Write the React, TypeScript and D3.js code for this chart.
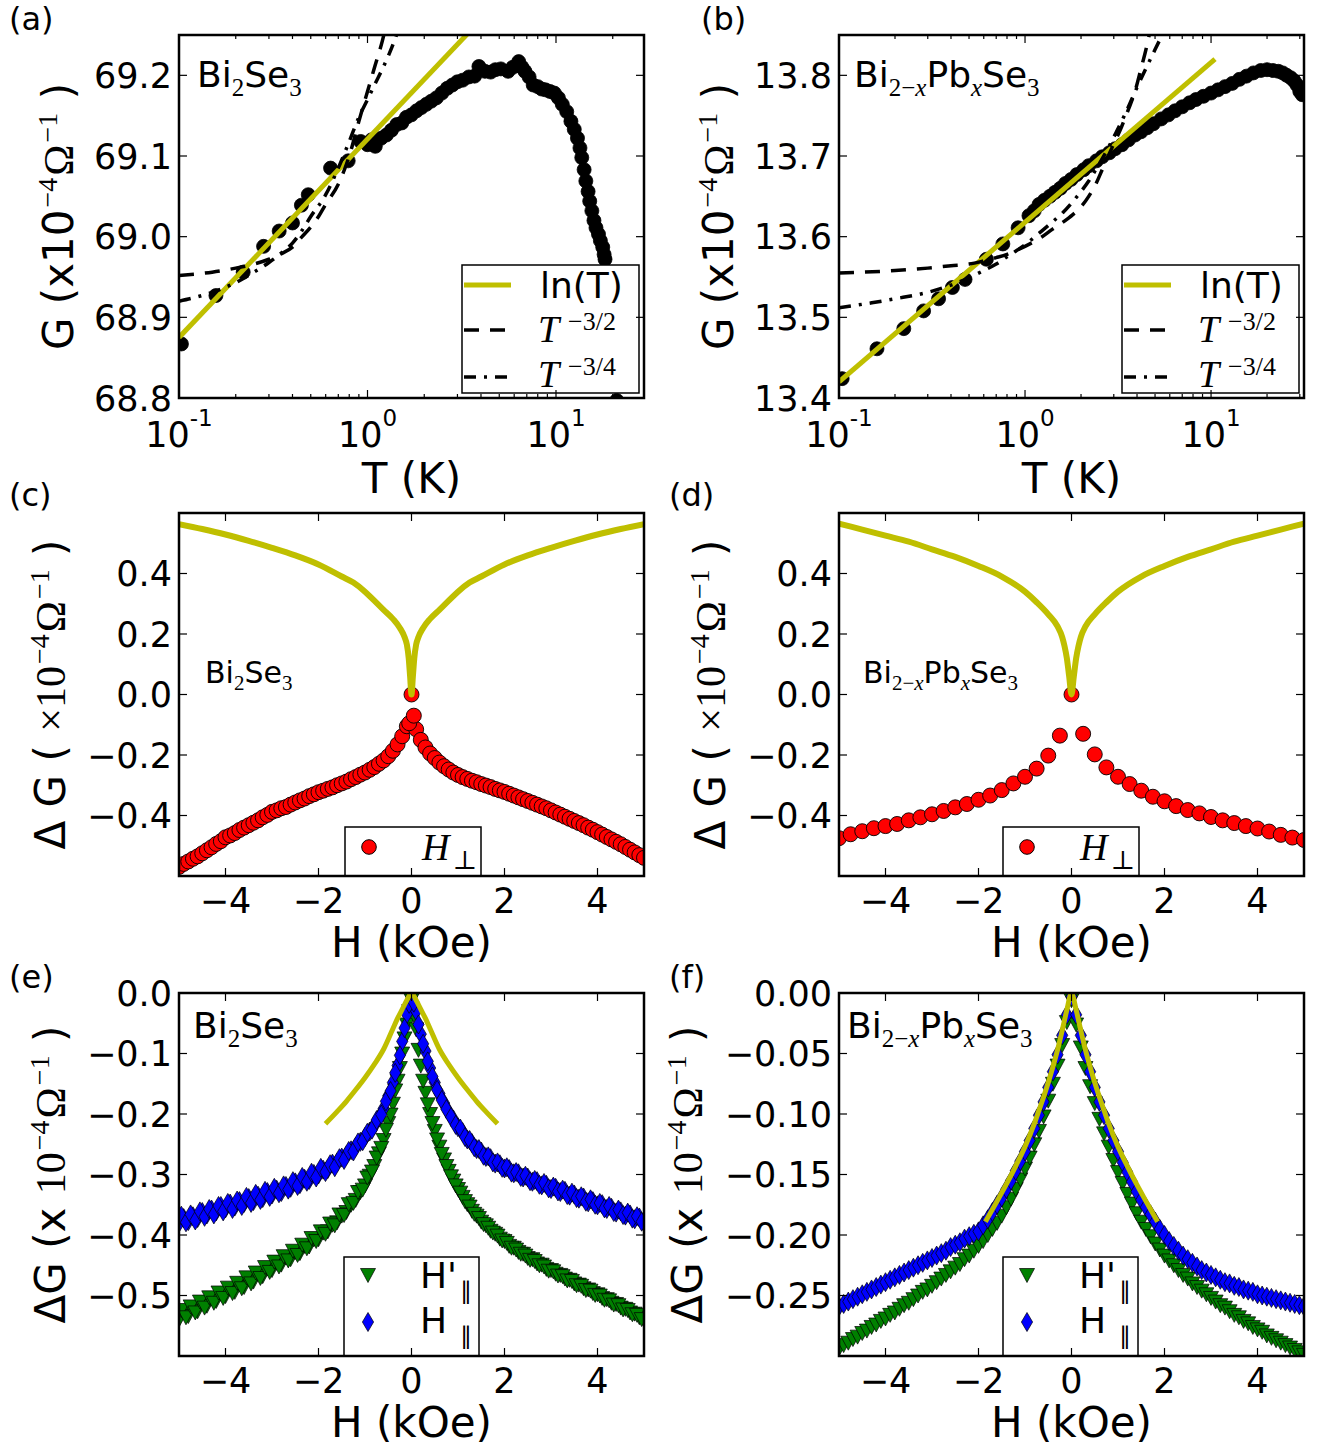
import React from "react";
import * as d3 from "d3";

const SANS = "'DejaVu Sans', sans-serif";
const SERIF = "'Liberation Serif', 'DejaVu Serif', serif";
const YEL = "#bfbf00";
const RED = "#ff0000";
const GREEN = "#008000";
const BLUE = "#0000ff";

// ---------------- (a) Bi2Se3 G(T)
const aT = [0.103,0.157,0.219,0.281,0.34,0.40,0.446,0.485,0.637,0.79,0.92,1.0,1.05,1.1,1.18,1.26,1.34,1.43,1.52,1.61,1.71,1.82,1.93,2.05,2.18,2.32,2.48,2.65,2.82,3.0,3.2,3.45,3.7,3.9,4.2,4.5,4.77,5.1,5.57,5.9,6.34,6.6,6.84,7.2,7.57,8.0,8.4,8.8,9.3,9.8,10.3,10.8,11.4,12.0,12.5,13.0,13.4,13.7,14.1,14.4,14.8,15.1,15.5,15.9,16.3,16.8,17.2,17.7,18.0,18.2,21.0];
const aG = [68.867,68.927,68.956,68.988,69.007,69.017,69.039,69.052,69.085,69.094,69.118,69.114,69.12,69.112,69.122,69.126,69.132,69.139,69.141,69.148,69.151,69.156,69.16,69.164,69.168,69.172,69.178,69.184,69.188,69.192,69.194,69.198,69.199,69.211,69.205,69.204,69.207,69.208,69.205,69.21,69.217,69.21,69.205,69.198,69.188,69.186,69.183,69.182,69.18,69.178,69.172,69.164,69.155,69.143,69.133,69.122,69.11,69.098,69.083,69.069,69.056,69.044,69.032,69.02,69.011,69.003,68.995,68.987,68.978,68.972,68.797];
const aLnT = [0.1, 10];
const aLnG = [68.875, 69.367];
const aDashT = [0.1,0.15,0.2,0.25,0.3,0.35,0.4,0.45,0.5,0.55,0.6,0.7,0.8,0.9,1.0,1.1,1.2,1.25];
const aDashG = [68.952,68.956,68.961,68.966,68.972,68.979,68.987,69.0,69.012,69.025,69.04,69.065,69.1,69.143,69.18,69.213,69.243,69.26];
const aDotT = [0.1,0.15,0.2,0.25,0.3,0.35,0.4,0.45,0.5,0.6,0.7,0.8,0.9,1.0,1.1,1.2,1.3,1.4,1.5];
const aDotG = [68.92,68.931,68.943,68.956,68.968,68.98,68.992,69.008,69.025,69.052,69.085,69.118,69.148,69.17,69.19,69.208,69.226,69.245,69.265];

// ---------------- (b) Bi2-xPbxSe3 G(T)
const bT = [0.104,0.16,0.223,0.285,0.343,0.407,0.476,0.62,0.76,0.918,1.05,1.12,1.19,1.27,1.36,1.45,1.55,1.65,1.77,1.9,2.07,2.2,2.42,2.6,2.84,3.05,3.32,3.6,3.9,4.2,4.54,4.9,5.4,5.9,6.4,7.0,7.67,8.3,9.1,10.0,10.9,11.9,13.0,14.2,15.5,16.9,18.5,20.0,21.5,23.0,24.3,25.5,26.8,28.0,29.0,30.0,30.9];
const bG = [13.424,13.461,13.486,13.508,13.523,13.537,13.547,13.572,13.591,13.611,13.626,13.632,13.640,13.645,13.650,13.655,13.660,13.666,13.671,13.677,13.683,13.688,13.694,13.699,13.704,13.709,13.714,13.720,13.726,13.730,13.735,13.740,13.746,13.751,13.756,13.761,13.766,13.770,13.774,13.778,13.782,13.786,13.790,13.795,13.799,13.803,13.806,13.807,13.806,13.805,13.803,13.800,13.797,13.793,13.788,13.780,13.776];
const bLnT = [0.1, 10.5];
const bLnG = [13.42, 13.82];
const bDashT = [0.1,0.2,0.3,0.4,0.5,0.6,0.7,0.8,0.9,1.0,1.2,1.4,1.6,1.8,2.0,2.2,2.4,2.6,2.8,3.0,3.3,3.6,3.9,4.2,4.5,4.7];
const bDashG = [13.555,13.558,13.561,13.564,13.566,13.57,13.574,13.578,13.583,13.588,13.598,13.609,13.618,13.627,13.637,13.65,13.665,13.683,13.7,13.715,13.736,13.758,13.78,13.808,13.835,13.855];
const bDotT = [0.1,0.15,0.2,0.3,0.4,0.5,0.6,0.7,0.8,1.0,1.2,1.4,1.6,1.8,2.0,2.2,2.5,2.8,3.1,3.5,4.0,4.5,5.0,5.6];
const bDotG = [13.512,13.518,13.523,13.531,13.54,13.549,13.558,13.566,13.575,13.59,13.605,13.618,13.63,13.643,13.656,13.669,13.69,13.71,13.73,13.755,13.785,13.81,13.832,13.855];

// ---------------- field sweeps (kOe)
const H_GRID = [-5.0,-4.9,-4.8,-4.7,-4.6,-4.5,-4.4,-4.3,-4.2,-4.1,-4.0,-3.9,-3.8,-3.7,-3.6,-3.5,-3.4,-3.3,-3.2,-3.1,-3.0,-2.9,-2.8,-2.7,-2.6,-2.5,-2.4,-2.3,-2.2,-2.1,-2.0,-1.9,-1.8,-1.7,-1.6,-1.5,-1.4,-1.3,-1.2,-1.1,-1.0,-0.9,-0.8,-0.7,-0.6,-0.5,-0.4,-0.3,-0.2,-0.1,0.0,0.1,0.2,0.3,0.4,0.5,0.6,0.7,0.8,0.9,1.0,1.1,1.2,1.3,1.4,1.5,1.6,1.7,1.8,1.9,2.0,2.1,2.2,2.3,2.4,2.5,2.6,2.7,2.8,2.9,3.0,3.1,3.2,3.3,3.4,3.5,3.6,3.7,3.8,3.9,4.0,4.1,4.2,4.3,4.4,4.5,4.6,4.7,4.8,4.9,5.0];
const H_HALF = [-4.95,-4.85,-4.75,-4.65,-4.55,-4.45,-4.35,-4.25,-4.15,-4.05,-3.95,-3.85,-3.75,-3.65,-3.55,-3.45,-3.35,-3.25,-3.15,-3.05,-2.95,-2.85,-2.75,-2.65,-2.55,-2.45,-2.35,-2.25,-2.15,-2.05,-1.95,-1.85,-1.75,-1.65,-1.55,-1.45,-1.35,-1.25,-1.15,-1.05,-0.95,-0.85,-0.75,-0.65,-0.55,-0.45,-0.35,-0.25,-0.15,-0.05,0.05,0.15,0.25,0.35,0.45,0.55,0.65,0.75,0.85,0.95,1.05,1.15,1.25,1.35,1.45,1.55,1.65,1.75,1.85,1.95,2.05,2.15,2.25,2.35,2.45,2.55,2.65,2.75,2.85,2.95,3.05,3.15,3.25,3.35,3.45,3.55,3.65,3.75,3.85,3.95,4.05,4.15,4.25,4.35,4.45,4.55,4.65,4.75,4.85,4.95];

// ---------------- (c) Bi2Se3 H_perp
const cG = [
-0.570,-0.560,-0.552,-0.543,-0.535,-0.525,-0.515,-0.505,-0.494,-0.485,
-0.472,-0.466,-0.458,-0.448,-0.440,-0.432,-0.424,-0.416,-0.406,-0.398,
-0.388,-0.383,-0.376,-0.372,-0.364,-0.357,-0.350,-0.344,-0.336,-0.330,
-0.323,-0.318,-0.312,-0.307,-0.300,-0.294,-0.288,-0.280,-0.273,-0.265,
-0.258,-0.249,-0.240,-0.229,-0.218,-0.204,-0.186,-0.165,-0.138,-0.105,
0.0,
-0.115,-0.150,-0.175,-0.195,-0.210,-0.225,-0.237,-0.248,-0.258,-0.266,
-0.273,-0.279,-0.285,-0.290,-0.296,-0.301,-0.306,-0.312,-0.317,-0.322,
-0.328,-0.334,-0.340,-0.346,-0.352,-0.358,-0.364,-0.370,-0.376,-0.383,
-0.390,-0.397,-0.404,-0.411,-0.418,-0.425,-0.432,-0.440,-0.447,-0.455,
-0.463,-0.471,-0.479,-0.487,-0.495,-0.504,-0.513,-0.522,-0.531,-0.540];
const cExtraH = [-0.05, 0.05];
const cExtraG = [-0.095, -0.07];
const cFitH = [0,0.03,0.06,0.1,0.15,0.25,0.4,0.6,0.8,1.0,1.25,1.5,2.0,2.5,3.0,3.5,4.0,4.5,5.0];
const cFitG = [0,0.06,0.12,0.165,0.19,0.22,0.25,0.28,0.31,0.34,0.37,0.39,0.43,0.46,0.485,0.508,0.529,0.547,0.563];

// ---------------- (d) Bi2-xPbxSe3 H_perp
const dH = [-5.0,-4.75,-4.5,-4.25,-4.0,-3.75,-3.5,-3.25,-3.0,-2.75,-2.5,-2.25,-2.0,-1.75,-1.5,-1.25,-1.0,-0.75,-0.5,-0.25,0,0.25,0.5,0.75,1.0,1.25,1.5,1.75,2.0,2.25,2.5,2.75,3.0,3.25,3.5,3.75,4.0,4.25,4.5,4.75,5.0];
const dG = [-0.475,-0.462,-0.452,-0.442,-0.435,-0.428,-0.416,-0.406,-0.396,-0.385,-0.373,-0.362,-0.348,-0.334,-0.316,-0.294,-0.272,-0.245,-0.202,-0.136,0.0,-0.13,-0.198,-0.241,-0.272,-0.296,-0.318,-0.338,-0.353,-0.369,-0.382,-0.393,-0.405,-0.416,-0.425,-0.435,-0.443,-0.453,-0.464,-0.473,-0.481];
const dFitH = [0,0.05,0.1,0.15,0.2,0.3,0.5,0.75,1.0,1.5,2.0,2.5,3.0,3.5,4.0,4.5,5.0];
const dFitG = [0,0.06,0.12,0.16,0.19,0.225,0.265,0.305,0.34,0.39,0.425,0.455,0.48,0.505,0.525,0.545,0.565];

// ---------------- (e) Bi2Se3 parallel fields (two sweeps each)
const eBlue = [
-0.380,-0.372,-0.377,-0.369,-0.372,-0.362,-0.366,-0.358,-0.361,-0.352,
-0.356,-0.348,-0.353,-0.344,-0.347,-0.339,-0.344,-0.335,-0.339,-0.329,
-0.333,-0.325,-0.329,-0.319,-0.322,-0.313,-0.316,-0.307,-0.309,-0.299,
-0.300,-0.292,-0.291,-0.282,-0.280,-0.272,-0.268,-0.260,-0.254,-0.246,
-0.238,-0.229,-0.219,-0.206,-0.191,-0.170,-0.148,-0.120,-0.080,-0.035,
-0.006,
-0.030,-0.068,-0.096,-0.124,-0.148,-0.166,-0.182,-0.197,-0.209,-0.222,
-0.230,-0.242,-0.248,-0.258,-0.262,-0.271,-0.273,-0.282,-0.283,-0.290,
-0.291,-0.298,-0.298,-0.305,-0.305,-0.312,-0.311,-0.318,-0.317,-0.324,
-0.322,-0.329,-0.327,-0.335,-0.333,-0.340,-0.338,-0.346,-0.344,-0.351,
-0.349,-0.357,-0.355,-0.363,-0.361,-0.368,-0.366,-0.374,-0.371,-0.379];
const eBlue2 = [
-0.368,-0.379,-0.366,-0.376,-0.361,-0.370,-0.357,-0.366,-0.352,-0.361,
-0.347,-0.357,-0.343,-0.352,-0.337,-0.347,-0.332,-0.342,-0.327,-0.337,
-0.322,-0.331,-0.318,-0.325,-0.311,-0.319,-0.304,-0.312,-0.297,-0.305,
-0.289,-0.296,-0.283,-0.288,-0.273,-0.276,-0.261,-0.262,-0.247,-0.245,
-0.231,-0.226,-0.210,-0.201,-0.179,-0.162,-0.132,-0.103,-0.058,-0.018,
-0.016,-0.052,-0.084,-0.113,-0.138,-0.160,-0.177,-0.192,-0.205,-0.218,
-0.224,-0.238,-0.243,-0.255,-0.258,-0.269,-0.270,-0.280,-0.280,-0.289,
-0.288,-0.297,-0.296,-0.304,-0.302,-0.311,-0.309,-0.317,-0.314,-0.323,
-0.320,-0.328,-0.325,-0.334,-0.330,-0.339,-0.336,-0.345,-0.341,-0.350,
-0.347,-0.356,-0.352,-0.362,-0.358,-0.367,-0.363,-0.373,-0.369,-0.378];
const eGreen = [
-0.540,-0.528,-0.534,-0.520,-0.526,-0.512,-0.517,-0.505,-0.509,-0.497,
-0.501,-0.489,-0.494,-0.481,-0.486,-0.473,-0.477,-0.464,-0.468,-0.455,
-0.458,-0.446,-0.449,-0.437,-0.440,-0.428,-0.430,-0.418,-0.419,-0.407,
-0.407,-0.396,-0.394,-0.383,-0.379,-0.368,-0.362,-0.350,-0.342,-0.329,
-0.318,-0.302,-0.286,-0.265,-0.243,-0.215,-0.183,-0.145,-0.100,-0.052,
-0.012,
-0.060,-0.120,-0.165,-0.200,-0.228,-0.254,-0.275,-0.294,-0.310,-0.324,
-0.337,-0.349,-0.360,-0.368,-0.378,-0.384,-0.393,-0.398,-0.406,-0.410,
-0.418,-0.421,-0.428,-0.431,-0.438,-0.440,-0.447,-0.449,-0.456,-0.458,
-0.464,-0.466,-0.472,-0.474,-0.480,-0.482,-0.488,-0.490,-0.496,-0.498,
-0.504,-0.506,-0.512,-0.514,-0.520,-0.522,-0.528,-0.530,-0.536,-0.540];
const eGreen2 = [
-0.524,-0.536,-0.518,-0.528,-0.510,-0.520,-0.503,-0.512,-0.495,-0.504,
-0.487,-0.496,-0.479,-0.488,-0.470,-0.480,-0.462,-0.471,-0.453,-0.461,
-0.444,-0.452,-0.435,-0.442,-0.426,-0.433,-0.416,-0.422,-0.405,-0.410,
-0.394,-0.398,-0.381,-0.384,-0.366,-0.367,-0.349,-0.347,-0.329,-0.325,
-0.305,-0.295,-0.272,-0.256,-0.226,-0.201,-0.161,-0.124,-0.075,-0.030,
-0.036,-0.094,-0.145,-0.184,-0.215,-0.242,-0.266,-0.286,-0.303,-0.318,
-0.330,-0.344,-0.353,-0.365,-0.372,-0.382,-0.388,-0.396,-0.401,-0.409,
-0.413,-0.421,-0.424,-0.431,-0.434,-0.441,-0.443,-0.450,-0.452,-0.459,
-0.460,-0.467,-0.468,-0.475,-0.476,-0.483,-0.484,-0.491,-0.492,-0.499,
-0.500,-0.507,-0.508,-0.515,-0.516,-0.523,-0.524,-0.531,-0.532,-0.539];
const eFitH = [0,0.1,0.2,0.3,0.4,0.6,0.8,1.0,1.2,1.4,1.6,1.85];
const eFitG = [0,-0.012,-0.027,-0.042,-0.059,-0.093,-0.118,-0.140,-0.160,-0.179,-0.196,-0.216];

// ---------------- (f) Bi2-xPbxSe3 parallel fields
const fBlue = [
-0.259,-0.257,-0.255,-0.253,-0.251,-0.249,-0.247,-0.245,-0.243,-0.241,
-0.239,-0.237,-0.235,-0.233,-0.231,-0.229,-0.227,-0.225,-0.223,-0.221,
-0.219,-0.217,-0.215,-0.213,-0.210,-0.208,-0.206,-0.203,-0.201,-0.199,
-0.197,-0.192,-0.187,-0.181,-0.175,-0.169,-0.162,-0.155,-0.147,-0.139,
-0.131,-0.122,-0.112,-0.101,-0.090,-0.078,-0.065,-0.051,-0.035,-0.018,
-0.003,
-0.018,-0.035,-0.051,-0.065,-0.078,-0.090,-0.101,-0.112,-0.122,-0.131,
-0.140,-0.148,-0.156,-0.164,-0.171,-0.177,-0.183,-0.189,-0.195,-0.200,
-0.205,-0.209,-0.213,-0.217,-0.220,-0.223,-0.226,-0.229,-0.231,-0.233,
-0.235,-0.237,-0.239,-0.240,-0.242,-0.243,-0.245,-0.246,-0.247,-0.249,
-0.250,-0.251,-0.252,-0.253,-0.254,-0.255,-0.256,-0.257,-0.258,-0.259];
const fGreen = [
-0.294,-0.291,-0.289,-0.286,-0.284,-0.281,-0.279,-0.276,-0.274,-0.271,
-0.269,-0.266,-0.264,-0.261,-0.258,-0.256,-0.253,-0.250,-0.247,-0.245,
-0.242,-0.239,-0.236,-0.233,-0.230,-0.227,-0.224,-0.220,-0.217,-0.213,
-0.209,-0.205,-0.200,-0.195,-0.190,-0.184,-0.177,-0.170,-0.162,-0.154,
-0.145,-0.136,-0.125,-0.114,-0.102,-0.089,-0.075,-0.060,-0.043,-0.024,
-0.006,
-0.026,-0.045,-0.062,-0.077,-0.091,-0.104,-0.116,-0.127,-0.138,-0.148,
-0.157,-0.166,-0.174,-0.182,-0.189,-0.195,-0.201,-0.207,-0.212,-0.217,
-0.221,-0.225,-0.229,-0.233,-0.236,-0.240,-0.243,-0.246,-0.249,-0.252,
-0.255,-0.258,-0.260,-0.263,-0.266,-0.268,-0.271,-0.273,-0.276,-0.278,
-0.280,-0.283,-0.285,-0.287,-0.289,-0.291,-0.293,-0.295,-0.297,-0.299];
const fFitH = [0,0.1,0.2,0.3,0.4,0.5,0.6,0.7,0.8,1.0,1.2,1.4,1.6,1.85];
const fFitG = [0,-0.014,-0.031,-0.047,-0.061,-0.074,-0.086,-0.097,-0.108,-0.127,-0.143,-0.158,-0.172,-0.189];

// tick values
const aYTicks = [68.8, 68.9, 69.0, 69.1, 69.2];
const bYTicks = [13.4, 13.5, 13.6, 13.7, 13.8];
const cdYTicks = [-0.4, -0.2, 0.0, 0.2, 0.4];
const eYTicks = [0.0, -0.1, -0.2, -0.3, -0.4, -0.5];
const fYTicks = [0.0, -0.05, -0.1, -0.15, -0.2, -0.25];
const hTicks = [-4, -2, 0, 2, 4];
const logMajors = [0.1, 1, 10];

// ---------------- layout
const PW = 465, PH = 363;
const COLX = [179, 839];
const ROWY = [35, 513, 993];

const xa = d3.scaleLog().domain([0.1, 29.3]).range([COLX[0], COLX[0] + PW]);
const ya = d3.scaleLinear().domain([68.8, 69.25]).range([ROWY[0] + PH, ROWY[0]]);
const xb = d3.scaleLog().domain([0.1, 31.6]).range([COLX[1], COLX[1] + PW]);
const yb = d3.scaleLinear().domain([13.4, 13.85]).range([ROWY[0] + PH, ROWY[0]]);
const xc = d3.scaleLinear().domain([-5, 5]).range([COLX[0], COLX[0] + PW]);
const yc = d3.scaleLinear().domain([-0.6, 0.6]).range([ROWY[1] + PH, ROWY[1]]);
const xd = d3.scaleLinear().domain([-5, 5]).range([COLX[1], COLX[1] + PW]);
const yd = d3.scaleLinear().domain([-0.6, 0.6]).range([ROWY[1] + PH, ROWY[1]]);
const xe = d3.scaleLinear().domain([-5, 5]).range([COLX[0], COLX[0] + PW]);
const ye = d3.scaleLinear().domain([-0.6, 0]).range([ROWY[2] + PH, ROWY[2]]);
const xf = d3.scaleLinear().domain([-5, 5]).range([COLX[1], COLX[1] + PW]);
const yf = d3.scaleLinear().domain([-0.3, 0]).range([ROWY[2] + PH, ROWY[2]]);

type Part = { t: string; serif?: boolean; it?: boolean; size?: number; shift?: number; dx?: number };

function Rich({ x = 0, y = 0, parts, size, anchor = "start", transform }: { x?: number; y?: number; parts: Part[]; size: number; anchor?: string; transform?: string }) {
  let prev = 0;
  return (
    <text x={x} y={y} textAnchor={anchor as any} transform={transform} fontSize={size} fontFamily={SANS} style={{ whiteSpace: "pre" }} fill="#000">
      {parts.map((p, i) => {
        const s = p.shift || 0;
        const dy = s - prev;
        prev = s;
        return (
          <tspan key={i} dx={p.dx || 0} dy={dy} fontFamily={p.serif ? SERIF : SANS} fontStyle={p.it ? "italic" : "normal"} fontSize={p.size || size}>
            {p.t}
          </tspan>
        );
      })}
    </text>
  );
}

const zip = (a: number[], b: number[]) => a.map((v, i) => [v, b[i]] as [number, number]);
const mirror = (hs: number[], gs: number[]) => {
  const neg = hs.map((h, i) => [-h, gs[i]] as [number, number]).reverse();
  const pos = hs.slice(1).map((h, i) => [h, gs[i + 1]] as [number, number]);
  return [...neg, ...pos];
};
const pathOf = (x: any, y: any, pts: [number, number][], smooth = true) =>
  (d3.line<[number, number]>().x((d) => x(d[0])).y((d) => y(d[1])).curve(smooth ? d3.curveMonotoneX : d3.curveLinear)(pts) as string);

const TRI = "M-7.5,-6.5L7.5,-6.5L0,7.5Z";
const DIA = "M0,-9.5L5.6,0L0,9.5L-5.6,0Z";

function Axes({ id, x, y, xLog, yTicks, yFmt, xLabel, xLabelY, yLabel, yLabelX, letter, letterX, letterY, children }: any) {
  const [L, R] = x.range();
  const [B, T] = y.range();
  const els: React.ReactNode[] = [];
  const tk = (k: string, x1: number, y1: number, x2: number, y2: number) =>
    els.push(<line key={k} x1={x1} y1={y1} x2={x2} y2={y2} stroke="#000" strokeWidth={1.2} />);
  yTicks.forEach((v: number, i: number) => {
    const yy = y(v);
    tk("yl" + i, L, yy, L + 8, yy);
    tk("yr" + i, R, yy, R - 8, yy);
  });
  const labels: React.ReactNode[] = [];
  yTicks.forEach((v: number, i: number) => {
    labels.push(
      <text key={"ylab" + i} x={L - 7} y={y(v) + 12.7} textAnchor="end" fontSize={35} fontFamily={SANS}>
        {yFmt(v)}
      </text>
    );
  });
  if (xLog) {
    const [d0, d1] = x.domain();
    const majors = logMajors.filter((v) => v >= d0 * 0.999 && v <= d1);
    const minors: number[] = [];
    logMajors.forEach((dec) => {
      for (let k = 2; k < 10; k++) {
        const v = dec * k;
        if (v > d0 && v < d1) minors.push(v);
      }
    });
    majors.forEach((v, i) => {
      tk("xb" + i, x(v), B, x(v), B - 8);
      tk("xt" + i, x(v), T, x(v), T + 8);
      const e = Math.round(Math.log10(v));
      labels.push(
        <text key={"xlab" + i} x={x(v)} y={B + 49} textAnchor="middle" fontSize={35} fontFamily={SANS}>
          <tspan>10</tspan>
          <tspan dy={-21} fontSize={23}>{String(e)}</tspan>
        </text>
      );
    });
    minors.forEach((v, i) => {
      tk("mb" + i, x(v), B, x(v), B - 4);
      tk("mt" + i, x(v), T, x(v), T + 4);
    });
  } else {
    hTicks.forEach((v, i) => {
      tk("xb" + i, x(v), B, x(v), B - 8);
      tk("xt" + i, x(v), T, x(v), T + 8);
      labels.push(
        <text key={"xlab" + i} x={x(v)} y={B + 37} textAnchor="middle" fontSize={35} fontFamily={SANS}>
          {d3.format("d")(v)}
        </text>
      );
    });
  }
  const cx = (L + R) / 2;
  const cy = (B + T) / 2;
  return (
    <g>
      <defs>
        <clipPath id={id}>
          <rect x={L} y={T} width={R - L} height={B - T} />
        </clipPath>
      </defs>
      <g clipPath={`url(#${id})`}>{children}</g>
      {els}
      <rect x={L} y={T} width={R - L} height={B - T} fill="none" stroke="#000" strokeWidth={2.5} />
      {labels}
      <text x={cx} y={xLabelY} textAnchor="middle" fontSize={42} fontFamily={SANS}>{xLabel}</text>
      <Rich parts={yLabel} size={42} anchor="middle" transform={`translate(${yLabelX},${cy}) rotate(-90)`} />
      <text x={letterX} y={letterY} fontSize={32} fontFamily={SANS}>{letter}</text>
    </g>
  );
}

const SUP = 28;
const yLabAB: Part[] = [
  { t: "G (x10" },
  { t: "−4", serif: true, size: SUP, shift: -16, dx: 2 },
  { t: "Ω", serif: true, dx: 2 },
  { t: "−1", serif: true, size: SUP, shift: -16, dx: 2 },
  { t: " )" },
];
const yLabCD: Part[] = [
  { t: "Δ G ( " },
  { t: "×10", serif: true },
  { t: "−4", serif: true, size: SUP, shift: -16, dx: 2 },
  { t: "Ω", serif: true, dx: 2 },
  { t: "−1", serif: true, size: SUP, shift: -16, dx: 2 },
  { t: " )" },
];
const yLabEF: Part[] = [
  { t: "ΔG (x " },
  { t: "10", serif: true },
  { t: "−4", serif: true, size: SUP, shift: -16, dx: 2 },
  { t: "Ω", serif: true, dx: 2 },
  { t: "−1", serif: true, size: SUP, shift: -16, dx: 2 },
  { t: " )" },
];

const bi2se3 = (sub: number, sh: number): Part[] => [
  { t: "Bi" },
  { t: "2", serif: true, size: sub, shift: sh },
  { t: "Se" },
  { t: "3", serif: true, size: sub, shift: sh },
];
const bipb = (sub: number, sh: number): Part[] => [
  { t: "Bi" },
  { t: "2−", serif: true, size: sub, shift: sh },
  { t: "x", serif: true, it: true, size: sub, shift: sh },
  { t: "Pb" },
  { t: "x", serif: true, it: true, size: sub, shift: sh },
  { t: "Se" },
  { t: "3", serif: true, size: sub, shift: sh },
];

function LegendT({ left, top }: { left: number; top: number }) {
  return (
    <g>
      <rect x={left} y={top} width={177} height={128} fill="#fff" stroke="#000" strokeWidth={1.5} />
      <line x1={left + 2} x2={left + 49} y1={top + 20} y2={top + 20} stroke={YEL} strokeWidth={5} />
      <line x1={left + 2} x2={left + 49} y1={top + 65} y2={top + 65} stroke="#000" strokeWidth={3.5} strokeDasharray="15,11" />
      <line x1={left + 2} x2={left + 49} y1={top + 112} y2={top + 112} stroke="#000" strokeWidth={3.5} strokeDasharray="12,8,3,8" />
      <text x={left + 78} y={top + 33} fontSize={36} fontFamily={SANS}>ln(T)</text>
      <text x={left + 76} y={top + 77} fontSize={38} fontFamily={SERIF} fontStyle="italic">T</text>
      <text x={left + 106} y={top + 65} fontSize={26} fontFamily={SERIF}>−3/2</text>
      <text x={left + 76} y={top + 122} fontSize={38} fontFamily={SERIF} fontStyle="italic">T</text>
      <text x={left + 106} y={top + 110} fontSize={26} fontFamily={SERIF}>−3/4</text>
    </g>
  );
}

function LegendPerp({ left, top }: { left: number; top: number }) {
  return (
    <g>
      <rect x={left} y={top} width={136} height={52} fill="#fff" stroke="#000" strokeWidth={1.5} />
      <circle cx={left + 24} cy={top + 20} r={7.3} fill={RED} stroke="#000" strokeWidth={1} />
      <Rich x={left + 77} y={top + 33} size={38} parts={[{ t: "H", serif: true, it: true }, { t: "⊥", serif: true, size: 26, shift: 9, dx: 3 }]} />
    </g>
  );
}

function LegendPar({ left, top }: { left: number; top: number }) {
  return (
    <g>
      <rect x={left} y={top} width={135} height={102} fill="#fff" stroke="#000" strokeWidth={1.5} />
      <path d={TRI} transform={`translate(${left + 24},${top + 18})`} fill={GREEN} stroke="#000" strokeWidth={0.7} />
      <path d={DIA} transform={`translate(${left + 24},${top + 65})`} fill={BLUE} stroke="#000" strokeWidth={0.7} />
      <text x={left + 76} y={top + 31} fontSize={36} fontFamily={SANS}>H'</text>
      <text x={left + 116} y={top + 42} fontSize={24} fontFamily={SANS}>∥</text>
      <text x={left + 76} y={top + 76} fontSize={36} fontFamily={SANS}>H</text>
      <text x={left + 116} y={top + 87} fontSize={24} fontFamily={SANS}>∥</text>
    </g>
  );
}

function PanelT({ id, x, y, T, G, lnT, lnG, dT, dG, ddT, ddG, yTicks, letter, letterX, yLabelX }: any) {
  const [, R] = x.range();
  const [B] = y.range();
  return (
    <Axes id={id} x={x} y={y} xLog yTicks={yTicks} yFmt={d3.format(".1f")} xLabel="T (K)" xLabelY={B + 95}
      yLabel={yLabAB} yLabelX={yLabelX} letter={letter} letterX={letterX} letterY={30}>
      {T.map((t: number, i: number) => (
        <circle key={i} cx={x(t)} cy={y(G[i])} r={7} fill="#000" stroke="#000" strokeWidth={0.8} />
      ))}
      <path d={pathOf(x, y, zip(lnT, lnG), false)} fill="none" stroke={YEL} strokeWidth={5} />
      <path d={pathOf(x, y, zip(dT, dG))} fill="none" stroke="#000" strokeWidth={3.5} strokeDasharray="15,11" />
      <path d={pathOf(x, y, zip(ddT, ddG))} fill="none" stroke="#000" strokeWidth={3.5} strokeDasharray="12,8,3,8" />
      <LegendT left={R - 182} top={B - 133} />
    </Axes>
  );
}

export default function App() {
  return (
    <svg width={1326} height={1447} style={{ position: "absolute", left: 0, top: 0, background: "#fff" }}>
      <rect width={1326} height={1447} fill="#fff" />

      {/* (a) */}
      <PanelT id="clipA" x={xa} y={ya} T={aT} G={aG} lnT={aLnT} lnG={aLnG} dT={aDashT} dG={aDashG} ddT={aDotT} ddG={aDotG}
        yTicks={aYTicks} letter="(a)" letterX={9} yLabelX={73} />
      <Rich x={197} y={87} size={36} parts={bi2se3(25, 9)} />

      {/* (b) */}
      <PanelT id="clipB" x={xb} y={yb} T={bT} G={bG} lnT={bLnT} lnG={bLnG} dT={bDashT} dG={bDashG} ddT={bDotT} ddG={bDotG}
        yTicks={bYTicks} letter="(b)" letterX={701} yLabelX={733} />
      <Rich x={854} y={87} size={36} parts={bipb(25, 9)} />

      {/* (c) */}
      <Axes id="clipC" x={xc} y={yc} yTicks={cdYTicks} yFmt={d3.format(".1f")} xLabel="H (kOe)" xLabelY={ROWY[1] + PH + 81}
        yLabel={yLabCD} yLabelX={65} letter="(c)" letterX={9} letterY={506}>
        {H_GRID.map((h, i) => (
          <circle key={i} cx={xc(h)} cy={yc(cG[i])} r={7.5} fill={RED} stroke="#000" strokeWidth={0.9} />
        ))}
        {cExtraH.map((h, i) => (
          <circle key={"x" + i} cx={xc(h)} cy={yc(cExtraG[i])} r={7.5} fill={RED} stroke="#000" strokeWidth={0.9} />
        ))}
        <path d={pathOf(xc, yc, mirror(cFitH, cFitG))} fill="none" stroke={YEL} strokeWidth={6} />
        <LegendPerp left={345} top={ROWY[1] + PH - 49} />
      </Axes>
      <Rich x={205} y={683} size={30} parts={bi2se3(21, 7)} />

      {/* (d) */}
      <Axes id="clipD" x={xd} y={yd} yTicks={cdYTicks} yFmt={d3.format(".1f")} xLabel="H (kOe)" xLabelY={ROWY[1] + PH + 81}
        yLabel={yLabCD} yLabelX={725} letter="(d)" letterX={669} letterY={506}>
        {dH.map((h, i) => (
          <circle key={i} cx={xd(h)} cy={yd(dG[i])} r={7.5} fill={RED} stroke="#000" strokeWidth={0.9} />
        ))}
        <path d={pathOf(xd, yd, mirror(dFitH, dFitG))} fill="none" stroke={YEL} strokeWidth={6} />
        <LegendPerp left={1003} top={ROWY[1] + PH - 49} />
      </Axes>
      <Rich x={863} y={683} size={30} parts={bipb(21, 7)} />

      {/* (e) */}
      <Axes id="clipE" x={xe} y={ye} yTicks={eYTicks} yFmt={d3.format(".1f")} xLabel="H (kOe)" xLabelY={ROWY[2] + PH + 81}
        yLabel={yLabEF} yLabelX={65} letter="(e)" letterX={9} letterY={988}>
        {H_GRID.map((h, i) => (
          <path key={"g" + i} d={TRI} transform={`translate(${xe(h)},${ye(eGreen[i])})`} fill={GREEN} stroke="#000" strokeWidth={0.7} />
        ))}
        {H_HALF.map((h, i) => (
          <path key={"g2" + i} d={TRI} transform={`translate(${xe(h)},${ye(eGreen2[i])})`} fill={GREEN} stroke="#000" strokeWidth={0.7} />
        ))}
        {H_GRID.map((h, i) => (
          <path key={"b" + i} d={DIA} transform={`translate(${xe(h)},${ye(eBlue[i])})`} fill={BLUE} stroke="#000" strokeWidth={0.7} />
        ))}
        {H_HALF.map((h, i) => (
          <path key={"b2" + i} d={DIA} transform={`translate(${xe(h)},${ye(eBlue2[i])})`} fill={BLUE} stroke="#000" strokeWidth={0.7} />
        ))}
        <path d={pathOf(xe, ye, mirror(eFitH, eFitG))} fill="none" stroke={YEL} strokeWidth={5} />
        <LegendPar left={344} top={ROWY[2] + PH - 99} />
      </Axes>
      <Rich x={193} y={1038} size={36} parts={bi2se3(25, 9)} />

      {/* (f) */}
      <Axes id="clipF" x={xf} y={yf} yTicks={fYTicks} yFmt={d3.format(".2f")} xLabel="H (kOe)" xLabelY={ROWY[2] + PH + 81}
        yLabel={yLabEF} yLabelX={702} letter="(f)" letterX={669} letterY={988}>
        {H_GRID.map((h, i) => (
          <path key={"g" + i} d={TRI} transform={`translate(${xf(h)},${yf(fGreen[i])})`} fill={GREEN} stroke="#000" strokeWidth={0.7} />
        ))}
        {H_GRID.map((h, i) => (
          <path key={"b" + i} d={DIA} transform={`translate(${xf(h)},${yf(fBlue[i])})`} fill={BLUE} stroke="#000" strokeWidth={0.7} />
        ))}
        <path d={pathOf(xf, yf, mirror(fFitH, fFitG))} fill="none" stroke={YEL} strokeWidth={5} />
        <LegendPar left={1003} top={ROWY[2] + PH - 99} />
      </Axes>
      <Rich x={847} y={1038} size={36} parts={bipb(25, 9)} />
    </svg>
  );
}
